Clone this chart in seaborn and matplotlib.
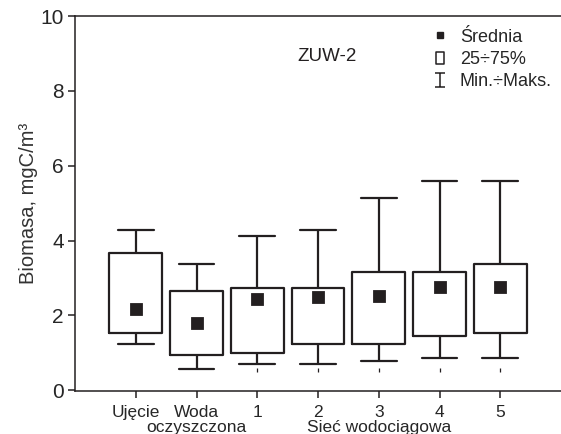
import numpy as np
import pandas as pd
import matplotlib
matplotlib.use("Agg")
import matplotlib.pyplot as plt
from matplotlib.lines import Line2D
from matplotlib.path import Path
import seaborn as sns

# values (mgC/m3)
categories = ["Ujęcie", "Woda oczyszczona", "1", "2", "3", "4", "5"]
tick_labels = ["Ujęcie", "Woda\noczyszczona", "1", "2", "3\nSieć wodociągowa", "4", "5"]
v_min = [1.23, 0.56, 0.71, 0.71, 0.77, 0.85, 0.85]
q25 = [1.52, 0.94, 1.00, 1.23, 1.23, 1.45, 1.52]
q75 = [3.68, 2.64, 2.73, 2.73, 3.16, 3.16, 3.38]
v_max = [4.27, 3.38, 4.12, 4.27, 5.15, 5.59, 5.59]
means = [2.16, 1.79, 2.45, 2.49, 2.53, 2.75, 2.75]
# stray dashes under the network boxes in the original figure
stub_cats = ["1", "2", "3", "4", "5"]
stub_y = [0.54, 0.54, 0.54, 0.54, 0.54]

INK = "#231f20"


def build_frame():
    # small sample per group whose quartiles and range equal the read values
    rows = []
    for c, lo, a, b, hi in zip(categories, v_min, q25, q75, v_max):
        for v in (lo, a, a, b, b, hi):
            rows.append({"grupa": c, "biomasa": v})
    return pd.DataFrame(rows)


def main():
    sns.set_style("ticks")
    plt.rcParams["font.family"] = ["Liberation Sans", "DejaVu Sans"]

    df = build_frame()
    fig = plt.figure(figsize=(5.61, 4.34), dpi=100)
    ax = fig.add_axes([0.1337, 0.099, 0.8663, 0.864])

    sns.boxplot(data=df, x="grupa", y="biomasa", order=categories,
                whis=np.inf, width=0.865, fill=False, color=INK,
                linewidth=1.6, capwidths=0.59,
                medianprops=dict(visible=False), ax=ax)
    sns.pointplot(x=categories, y=means, order=categories, color=INK,
                  markers="s", markersize=7, linestyle="none",
                  errorbar=None, ax=ax)
    sns.scatterplot(x=stub_cats, y=stub_y, marker="|", s=12, color=INK,
                    linewidth=0.9, ax=ax)

    ax.set_xlim(-1, 7)
    ax.set_ylim(-0.02, 10)
    ax.set_yticks([0, 2, 4, 6, 8, 10])
    ax.set_xticks(range(len(categories)))
    ax.set_xticklabels(tick_labels, fontsize=12.5, linespacing=1.0)
    ax.tick_params(axis="y", labelsize=15, length=5, width=1.1, pad=3, color=INK)
    ax.tick_params(axis="x", length=5, width=1.1, pad=5, color=INK)
    ax.set_xlabel("")
    ax.set_ylabel("Biomasa, mgC/m³", fontsize=14.5, color="#333333", labelpad=2)

    for s in ("left", "bottom", "top"):
        ax.spines[s].set_visible(True)
        ax.spines[s].set_color(INK)
        ax.spines[s].set_linewidth(1.1)
    ax.spines["right"].set_visible(False)

    ax.text(3.15, 8.92, "ZUW-2", fontsize=13.5, ha="center", va="center", color=INK)

    # legend symbols: small filled square, tall open box, I-beam
    rect = Path([(-0.7, -1), (0.7, -1), (0.7, 1), (-0.7, 1), (-0.7, -1)],
                [Path.MOVETO, Path.LINETO, Path.LINETO, Path.LINETO, Path.CLOSEPOLY])
    ibeam = Path([(-0.8, 1), (0.8, 1), (0, 1), (0, -1), (-0.8, -1), (0.8, -1)],
                 [Path.MOVETO, Path.LINETO, Path.MOVETO, Path.LINETO,
                  Path.MOVETO, Path.LINETO])
    handles = [
        Line2D([], [], ls="none", marker="s", ms=4.5, color=INK),
        Line2D([], [], ls="none", marker=rect, ms=8.5, mfc="white", mec=INK, mew=1.1),
        Line2D([], [], ls="none", marker=ibeam, ms=9.5, mec=INK, mew=1.1),
    ]
    ax.legend(handles, ["Średnia", "25÷75%", "Min.÷Maks."], loc="upper left",
              bbox_to_anchor=(0.695, 1.01), frameon=False, fontsize=13,
              handlelength=1.2, handletextpad=0.5, labelspacing=0.3)

    fig.savefig("out.png", dpi=100)
    plt.close(fig)


if __name__ == "__main__":
    main()
